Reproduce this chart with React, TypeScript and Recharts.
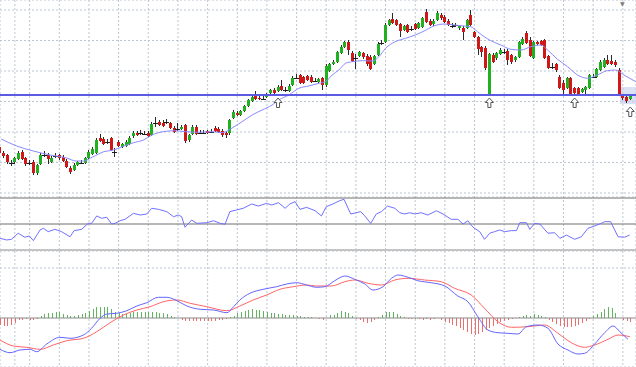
import {
  ComposedChart,
  Bar,
  Line,
  Scatter,
  XAxis,
  YAxis,
  CartesianGrid,
  ReferenceLine,
  ReferenceArea,
} from "recharts";

// bars visible across the 636px window (0 = left edge)
const X_MAX = 171.55;

// candles, one per bar (price in points)
const opens = [
  53, 47, 45, 37.5, 38, 41, 48, 42, 37.5, 38,
  27, 36, 45.5, 45, 38, 44.5, 45, 43, 39, 32,
  30, 35, 37.5, 37, 42, 46, 47, 62, 61, 58.5,
  62, 48.5, 58, 53, 54, 56, 64, 67, 67.5, 66.5,
  67, 65, 77.5, 78, 77, 78.5, 77, 72, 71.5, 71,
  75, 60, 66, 73, 67.5, 67.5, 69, 68.5, 72, 71,
  69, 67, 67, 82, 87, 85, 89, 94, 99, 105,
  102, 101.5, 103, 107, 110, 109, 114, 110.5, 109, 115,
  122.5, 125, 123, 124, 123, 119.5, 118, 122, 115, 129,
  136, 138, 147, 153, 158, 147, 142.5, 144, 147, 144,
  143, 136, 145, 157.5, 158, 175, 181, 180, 176, 170,
  175, 171, 176, 172, 173, 188, 179, 176, 180, 185,
  183, 179, 174.5, 174.5, 172, 172, 172, 185, 168, 163,
  153, 152, 106, 145, 142, 146, 148.5, 149, 145, 140,
  143, 156, 167, 160, 142, 158, 159, 160, 144, 133.5,
  136, 123, 117, 112, 122, 112, 112, 108, 110, 112,
  123.5, 123, 130, 133, 140, 139, 138, 130, 105, 103,
  101,
];
const highs = [
  55, 49, 46, 40, 43, 49, 50, 43, 40, 40,
  36, 47, 49, 47, 44, 47, 46, 45, 41, 34,
  37, 39, 40, 43, 50, 53, 62, 66, 63, 61,
  63, 52, 60, 57, 60, 64, 69, 69, 70, 69,
  69, 78, 83, 80, 80, 81, 78, 74, 77, 75,
  76, 66, 75, 75, 70, 70, 70, 71, 74, 73,
  71, 69, 81, 90, 89, 90, 95, 101, 105, 109,
  104, 104, 107, 111, 112, 115, 120, 113, 116, 124,
  126, 126, 124, 125, 125, 122, 122, 123, 136, 137,
  140, 149, 155, 159, 160, 149, 146, 149, 148, 146,
  145, 145, 158, 160, 177, 181, 187, 181, 177, 175,
  176, 174, 177, 178, 183, 191, 181, 181, 189, 187,
  185, 181, 177, 177, 175, 174, 181, 190, 169, 164,
  154, 154, 147, 147, 148, 152, 151, 151, 146, 144,
  159, 163, 169, 163, 159, 159, 160, 161, 145, 137,
  137, 125, 120, 123, 123, 113, 113, 112, 114, 126,
  126, 132, 140, 142, 145, 145, 140, 132, 106, 105,
  106,
];
const lows = [
  45, 42, 36, 34, 36, 40, 40, 34, 35, 25,
  25, 35, 43, 36, 37, 42, 40, 38, 32, 26,
  29, 34, 36, 36, 41, 45, 46, 58, 55, 56,
  49, 43, 53, 52, 53, 55, 62, 64, 65, 65,
  63, 64, 73, 74, 73, 76, 71, 67, 69, 70,
  57, 58, 65, 65, 66, 66, 66, 67, 68, 67,
  63, 62, 65, 81, 84, 84, 88, 93, 98, 100,
  100, 100, 102, 106, 106, 108, 109, 108, 108, 114,
  121, 116, 116, 119, 117, 118, 117, 110, 113, 128,
  135, 137, 146, 152, 145, 138, 131, 143, 141, 134,
  130, 135, 144, 155, 157, 174, 176, 174, 163, 169,
  167, 169, 170, 171, 172, 177, 174, 174, 179, 180,
  177, 174, 172, 173, 170, 160, 171, 174, 162, 145,
  143, 130, 105, 137, 140, 145, 146, 135, 136, 138,
  142, 155, 156, 143, 141, 155, 154, 141, 131, 131,
  128, 111, 105, 111, 104, 106, 105, 107, 105, 111,
  122, 122, 129, 132, 135, 135, 133, 104, 100, 97,
  100,
];
const closes = [
  47, 44, 38, 37.5, 42, 47, 41, 36, 37.5, 27,
  35, 45, 45.5, 41, 42, 44.5, 42, 39, 33, 28,
  35, 38, 37.5, 42, 48, 51, 60, 59, 56, 58.5,
  50, 48.5, 54, 56, 58, 62, 67, 65, 67.5, 66.5,
  64, 76, 77.5, 75, 74, 78.5, 72, 68, 71.5, 73,
  59, 65, 73, 66, 67.5, 67.5, 67, 68.5, 69, 68,
  65, 65, 80, 88, 85, 89, 94, 100, 103, 101,
  101, 101.5, 106, 110, 107, 113, 110, 110.5, 114, 122,
  122.5, 117, 117, 120, 118, 119.5, 121, 115, 134, 136,
  138, 148, 153, 158, 150, 139, 142.5, 148, 143, 136,
  131, 144, 156, 157.5, 175, 180, 177, 175, 169, 174,
  168, 171, 171, 177, 182, 178, 175, 179, 187, 182,
  178, 175, 174.5, 174.5, 174, 168, 180, 175, 163, 151,
  148, 132, 146, 138, 147, 150, 148.5, 140, 138, 143,
  158, 161, 157, 144, 158, 156, 155, 142, 132, 133.5,
  130, 112, 110, 122, 105, 107, 106, 111, 113, 125,
  123.5, 131, 138, 140, 136, 136, 135, 105, 102, 99,
  104,
];

// moving average [bar, value]
const maPts = [
  [0.3, 61], [4.5, 54], [9, 49], [13.5, 45], [18, 42], [20.5, 39], [22.5, 39],
  [25, 43], [28, 48.3], [30.6, 50], [33, 53.3], [36, 57.3], [38.7, 60],
  [41, 65], [44, 68.3], [47, 69.3], [50, 68.3], [54, 67.7], [57.2, 68.3],
  [60, 67.3], [62.6, 72], [65.3, 78.3], [68, 85], [70.7, 90], [73.4, 95],
  [75.2, 100], [77.9, 105], [80.6, 111.7], [83.3, 114], [86, 116.7],
  [87.8, 118.3], [89.6, 125], [91.4, 130], [93.2, 136.7], [95, 138.3],
  [97.7, 139.3], [100.4, 139], [102.2, 143.3], [104, 151.7], [106.6, 158.3],
  [109.4, 161.7], [112, 165], [114.4, 169], [117, 174], [120, 176],
  [122.5, 175], [125.2, 174], [127, 173.3], [128.8, 168.3], [130.6, 163.3],
  [132.4, 159.3], [135.1, 155], [137.8, 150.7], [140.5, 150], [143.2, 153.3],
  [145.9, 155], [147.7, 150], [150.4, 140.7], [153.1, 133.3], [155.8, 125],
  [158.5, 121.7], [161.1, 125], [163.8, 129.3], [166.1, 130], [168.3, 125],
  [171.5, 118.3],
];

const supportLevel = 105;
const arrowBars = [75, 132, 155, 170];
const arrowTips = [102, 102, 102, 93];
const mainGridLevels = [190, 174.75, 159.5, 144.25, 129, 113.75, 98.5, 83.25, 68, 52.75, 37.5, 22.25, 7];

// oscillator window
const rsiPts = [
  [0, 39], [1.8, 37.7], [3.1, 38.2], [4.9, 42.9], [6.7, 39.8], [7.9, 40.8],
  [9, 37.2], [10.8, 45.4], [11.7, 46.7], [13, 44.1], [14.8, 45.9], [16.6, 44.1],
  [18.9, 40.2], [20, 44.9], [22, 45.9], [23.8, 50.5], [24.7, 50.5], [26.1, 56.2],
  [27.4, 54.4], [28.8, 55.2], [30.1, 50], [31, 50.5], [32.4, 52.5], [33.7, 53.6],
  [36, 58.2], [37.8, 56.9], [39.6, 57.7], [40.9, 62.1], [42.7, 61.3], [45, 59.5],
  [46.8, 55.6], [48.1, 56.9], [49, 55.6], [49.9, 47.5], [51.7, 53.1], [53.1, 50.5],
  [55.8, 51], [57.6, 52.5], [59.4, 50.5], [60.7, 49.8], [62, 59.5], [63.8, 60.8],
  [65.6, 62.1], [67.9, 65.4], [69.7, 63.8], [71.9, 65.9], [73.3, 64.6], [75.1, 66.4],
  [76.9, 62.1], [78.2, 65.4], [79.6, 67.2], [80.9, 61.3], [82.7, 62.8], [85, 60.2],
  [86.7, 56.2], [88, 63.3], [89.8, 65.4], [91.6, 67.9], [92.8, 69], [94.6, 57.7],
  [96.1, 58.7], [97.3, 59.5], [98.4, 56.2], [100, 50.5], [101.5, 57.7], [102.9, 59.5],
  [104.5, 63.8], [106.5, 62.1], [107.8, 58.7], [109.2, 57.7], [110.5, 58.7], [111.9, 57.7],
  [113.6, 58.7], [115.4, 56.9], [117.7, 60.2], [119.5, 57.7], [121.7, 53.6], [123.5, 53.6],
  [124.9, 50], [126.2, 52.5], [127.6, 47.5], [129.4, 44.1], [130.7, 38.2], [132.1, 42.9],
  [133.4, 44.1], [134.8, 45.4], [136.1, 44.1], [137.9, 44.9], [139.3, 44.9], [140.2, 51],
  [142, 51], [142.9, 45.9], [144.2, 50.5], [145.6, 50], [147.8, 42.9], [149.6, 43.3],
  [151, 39], [152.8, 41.5], [155, 38.2], [156.8, 40.2], [158.6, 46.7], [160.4, 48.5],
  [162.2, 50.5], [163.1, 51.8], [164.7, 51.8], [166.7, 40.2], [168.5, 39.8], [169.8, 41.5],
];
const rsiLevels = [70, 50];

// MACD window
const macdPts = [
  [0, -3.13], [2.7, -3.47], [5.4, -3.2], [8.1, -3.13], [9.9, -3.37], [12.6, -2.6],
  [16.2, -1.93], [18.9, -2.03], [22.5, -1.7], [24.7, -1.03], [27, -0.03], [28.8, 0.4],
  [31.5, 0.47], [34.2, 0.73], [36.9, 1.2], [39.6, 1.53], [42.7, 2.07], [45, 2.07],
  [47.7, 1.73], [50.4, 1.2], [54, 0.87], [57.6, 0.8], [61.2, 0.53], [63, 1.13],
  [64.7, 1.8], [67.4, 2.47], [71, 2.87], [74.6, 3.13], [77.3, 3.4], [80, 3.53],
  [82.7, 3.3], [85.4, 3.07], [87.6, 3.13], [90.3, 3.73], [93, 4.2], [95.7, 3.87],
  [98.4, 3.4], [100.6, 2.8], [103.3, 3.13], [105.6, 3.97], [107.4, 4.3], [110.1, 4.07],
  [112.7, 3.73], [116.3, 3.53], [120, 3.2], [123.5, 2.2], [126.2, 1.63], [128.9, 0.13],
  [131.6, -1.2], [134.3, -1.47], [137, -1.53], [139.7, -1.6], [142, -0.87], [145.1, -0.7],
  [147.8, -1.03], [150.5, -2.6], [153.2, -3.2], [155.9, -3.6], [157.7, -3.53], [160.4, -2.6],
  [163.1, -1.47], [165.4, -0.8], [167.2, -1.37], [169.4, -2.13],
];
const signalPts = [
  [0, -2.2], [3.6, -2.8], [7.2, -2.93], [10.8, -3.13], [14.4, -2.7], [18, -2.27],
  [22.5, -2.03], [26.1, -1.37], [29.7, -0.47], [33.3, 0.3], [36.9, 0.8], [40.5, 1.13],
  [44.1, 1.63], [47.7, 1.8], [51.3, 1.47], [55.8, 1.13], [61.2, 0.73], [64.7, 1.2],
  [68.3, 1.8], [71.9, 2.3], [75.5, 2.87], [79.1, 3.13], [82.7, 3.3], [85.4, 3.2],
  [89.4, 3.2], [93, 3.63], [95.7, 3.8], [99.3, 3.47], [102.9, 3.3], [106.5, 3.8],
  [110.1, 3.97], [114.5, 3.8], [119, 3.63], [122.6, 2.97], [127.1, 2.3], [130.7, 0.97],
  [134.3, -0.37], [138, -0.93], [142.4, -0.87], [146.9, -0.7], [150.5, -1.53], [154.1, -2.47],
  [157.7, -2.93], [160.4, -2.7], [164, -2.13], [166.7, -1.7], [169.9, -1.87],
];
const osma = [
  -0.7, -0.8, -0.8, -0.7, -0.5, -0.2, -0.2, -0.1, -0.2, -0.2, -0.1,
  0.2, 0.4, 0.5, 0.5, 0.6, 0.6, 0.4, 0.3, 0.2, 0.2,
  0.3, 0.4, 0.5, 0.7, 0.9, 1.1, 1.1, 1.1, 1.1, 0.9,
  0.6, 0.5, 0.4, 0.4, 0.5, 0.6, 0.6, 0.6, 0.6, 0.6,
  0.6, 0.6, 0.5, 0.5, 0.4, 0.2, 0.1, 0, -0.2, -0.3,
  -0.3, -0.3, -0.3, -0.3, -0.3, -0.3, -0.3, -0.3, -0.2, -0.2,
  -0.1, 0.1, 0.2, 0.5, 0.6, 0.7, 0.8, 0.9, 0.8, 0.8,
  0.7, 0.6, 0.5, 0.5, 0.4, 0.4, 0.3, 0.3, 0.3, 0.2,
  0.2, 0.1, 0.1, 0.1, 0, -0.1, -0.2, 0, 0.3, 0.3,
  0.5, 0.7, 0.6, 0.5, 0.2, -0.1, -0.2, -0.4, -0.5, -0.4,
  -0.2, 0.1, 0.3, 0.6, 0.6, 0.6, 0.4, 0.2, 0.1, -0.1,
  -0.1, -0.1, -0.1, -0.2, -0.1, -0.2, -0.1, 0, -0.2, -0.4,
  -0.5, -0.7, -0.8, -1, -1.2, -1.4, -1.6, -1.7, -1.6, -1.4,
  -1.2, -1, -0.8, -0.6, -0.4, -0.3, -0.2, -0.1, 0, 0.1,
  0.2, 0.3, 0.2, 0.4, 0.3, 0.2, 0.1, -0.2, -0.4, -0.6,
  -0.8, -0.9, -0.9, -0.9, -0.8, -0.7, -0.5, -0.3, -0.1, 0.2,
  0.4, 0.6, 0.9, 1.1, 1, 0.5, 0, -0.2, -0.3, -0.4,
];

const gridColor = "#bcc6d2";
const barTicks = Array.from({ length: 43 }, (_, i) => i * 4);

const candles = opens.map((o, i) => ({
  k: i,
  open: o,
  close: closes[i],
  high: highs[i],
  low: lows[i],
  range: [lows[i], highs[i]],
}));
const maData = maPts.map(([k, v]) => ({ k, v }));
const arrows = arrowBars.map((k, i) => ({ k, p: arrowTips[i] }));
const rsiData = rsiPts.map(([k, v]) => ({ k, v }));
const macdData = macdPts.map(([k, v]) => ({ k, v }));
const signalData = signalPts.map(([k, v]) => ({ k, v }));
const histData = osma.map((h, i) => ({ k: i, h }));

const Candle = (props: any) => {
  const { x, y, width, height, payload } = props;
  if (x == null || y == null) return null;
  const top = Math.min(y, y + height);
  const h = Math.abs(height);
  const { open, close, high, low } = payload;
  const toY = (v: number) => top + ((high - v) / (high - low)) * h;
  const left = Math.round(x + width / 2 - 1.5);
  const cx = left + 1.5;
  const bTop = Math.round(toY(Math.max(open, close)));
  const bBot = Math.round(toY(Math.min(open, close)));
  const up = close > open;
  return (
    <g shapeRendering="crispEdges">
      <line x1={cx} x2={cx} y1={Math.round(top)} y2={Math.round(top + h)} stroke="#2a2a2a" strokeWidth={1} />
      {open === close ? (
        <line x1={left - 1} x2={left + 4} y1={bTop + 0.5} y2={bTop + 0.5} stroke="#1e1e1e" strokeWidth={1} />
      ) : (
        <rect
          x={left}
          y={bTop}
          width={3}
          height={Math.max(bBot - bTop, 1)}
          fill={up ? "#20b020" : "#d01818"}
        />
      )}
    </g>
  );
};

const HistBar = (props: any) => {
  const { x, y, width, height, payload } = props;
  if (x == null || y == null) return null;
  const top = Math.min(y, y + height);
  const h = Math.abs(height);
  const cx = Math.round(x + width / 2) + 0.5;
  return (
    <line
      x1={cx}
      x2={cx}
      y1={top}
      y2={top + h}
      stroke={payload.h >= 0 ? "#5fb65f" : "#ee6e6e"}
      strokeWidth={1}
      shapeRendering="crispEdges"
    />
  );
};

const ArrowUp = (props: any) => {
  const { cx, cy } = props;
  if (cx == null || cy == null) return null;
  const d = `M${cx},${cy} L${cx + 4},${cy + 4.5} L${cx + 1.5},${cy + 4.5} L${cx + 1.5},${cy + 9.5} L${cx - 1.5},${cy + 9.5} L${cx - 1.5},${cy + 4.5} L${cx - 4},${cy + 4.5} Z`;
  return <path d={d} fill="#fff" stroke="#555" strokeWidth={1} />;
};

const xAxis = (
  <XAxis type="number" dataKey="k" domain={[0, X_MAX]} ticks={barTicks} hide allowDataOverflow />
);

export default function App() {
  return (
    <div style={{ position: "absolute", left: 0, top: 0, width: 636, height: 367, background: "#fff", overflow: "hidden" }}>
      <div style={{ position: "absolute", left: 0, top: 0 }}>
        <ComposedChart width={636} height={197} data={candles} margin={{ top: 0, right: 0, bottom: 0, left: 0 }}>
          <CartesianGrid stroke={gridColor} strokeDasharray="2 2" />
          {xAxis}
          <YAxis type="number" domain={[3, 200]} ticks={mainGridLevels} hide allowDataOverflow />
          <ReferenceArea x1={167.2} x2={X_MAX} y1={96} y2={113} fill="#c3cbea" fillOpacity={0.6} stroke="none" />
          <Bar dataKey="range" barSize={3} shape={Candle} isAnimationActive={false} />
          <Line data={maData} dataKey="v" type="monotone" stroke="#8a8aff" strokeWidth={1} dot={false} activeDot={false} isAnimationActive={false} />
          <ReferenceLine y={supportLevel} stroke="#5a5ae2" strokeWidth={2} />
          <Scatter data={arrows} dataKey="p" shape={ArrowUp} isAnimationActive={false} />
        </ComposedChart>
      </div>
      <div style={{ position: "absolute", left: 0, top: 196 }}>
        <ComposedChart width={636} height={56} margin={{ top: 0, right: 0, bottom: 0, left: 0 }}>
          <CartesianGrid stroke={gridColor} strokeDasharray="2 2" horizontal={false} />
          {xAxis}
          <YAxis type="number" domain={[28.46, 71.54]} hide allowDataOverflow />
          {rsiLevels.map((lv) => (
            <ReferenceLine key={lv} y={lv} stroke="#6e6e6e" strokeWidth={1} />
          ))}
          <Line data={rsiData} dataKey="v" type="linear" stroke="#7070ff" strokeWidth={1} dot={false} activeDot={false} isAnimationActive={false} />
        </ComposedChart>
      </div>
      <div style={{ position: "absolute", left: 0, top: 251 }}>
        <ComposedChart width={636} height={116} data={histData} margin={{ top: 0, right: 0, bottom: 0, left: 0 }}>
          <CartesianGrid stroke={gridColor} strokeDasharray="2 2" />
          {xAxis}
          <YAxis type="number" domain={[-4.9, 6.7]} ticks={[5]} hide allowDataOverflow />
          <ReferenceLine y={0} stroke="#8a8a8a" strokeWidth={1} />
          <Bar dataKey="h" barSize={1} shape={HistBar} isAnimationActive={false} />
          <Line data={signalData} dataKey="v" type="monotone" stroke="#ff6464" strokeWidth={1} dot={false} activeDot={false} isAnimationActive={false} />
          <Line data={macdData} dataKey="v" type="monotone" stroke="#6464ff" strokeWidth={1} dot={false} activeDot={false} isAnimationActive={false} />
        </ComposedChart>
      </div>
      <div style={{ position: "absolute", left: 0, top: 249, width: 636, height: 2, background: "#c4c4c4" }} />
      <div style={{ position: "absolute", left: 620, top: 0, fontSize: 6, lineHeight: "7px", color: "#808080", fontFamily: "DejaVu Sans" }}>▼</div>
    </div>
  );
}
